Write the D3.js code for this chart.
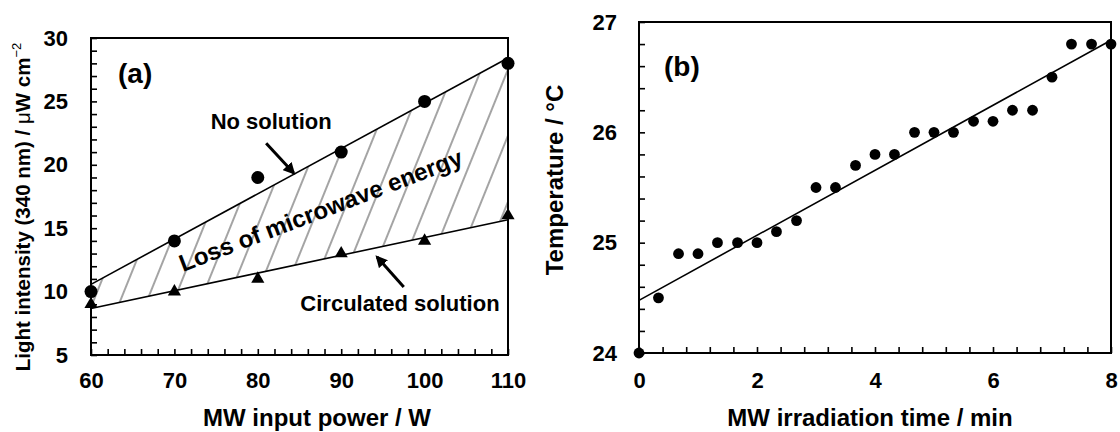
<!DOCTYPE html>
<html lang="en">
<head>
<meta charset="utf-8">
<title>MW power and temperature</title>
<script src="https://cdn.jsdelivr.net/npm/d3@7"></script>
<style>
  body { margin: 0; background: #fff; }
  svg { display: block; font-family: "Liberation Sans", Arial, sans-serif; font-weight: bold; }
  .frame { fill: none; stroke: #000; stroke-width: 2; }
  .fit { fill: none; stroke: #000; stroke-width: 1.6; }
  .axis text { font-size: 22px; font-weight: bold; fill: #000; }
  .axis line { stroke: #000; stroke-width: 1.6; }
  .axis path { display: none; }
</style>
</head>
<body>
<script>
// panel (a) data
var powerW = [60, 70, 80, 90, 100, 110];
var noSolution = [10, 14, 19, 21, 25, 28];
var circulated = [9, 10, 11, 13, 14, 16];
var xTicksA = [60, 70, 80, 90, 100, 110];
var yTicksA = [5, 10, 15, 20, 25, 30];

// panel (b) data
var timeMin = [0, 0.33, 0.67, 1, 1.33, 1.67, 2, 2.33, 2.67, 3, 3.33, 3.67, 4,
               4.33, 4.67, 5, 5.33, 5.67, 6, 6.33, 6.67, 7, 7.33, 7.67, 8];
var temperature = [24.0, 24.5, 24.9, 24.9, 25.0, 25.0, 25.0, 25.1, 25.2, 25.5, 25.5, 25.7, 25.8,
                   25.8, 26.0, 26.0, 26.0, 26.1, 26.1, 26.2, 26.2, 26.5, 26.8, 26.8, 26.8];
var xTicksB = [0, 2, 4, 6, 8];
var yTicksB = [24, 25, 26, 27];

var w = 1120, h = 432;

var svg = d3.select("body").append("svg")
  .attr("width", w)
  .attr("height", h);

// least squares straight line, like the trend lines in the original
function linFit(xs, ys) {
  var mx = d3.mean(xs), my = d3.mean(ys);
  var sxy = d3.sum(xs, function(x, i){ return (x - mx) * (ys[i] - my); });
  var sxx = d3.sum(xs, function(x){ return (x - mx) * (x - mx); });
  var b = sxy / sxx;
  return function(x){ return my + b * (x - mx); };
}

function drawAxes(g, x, y, xMinor, yMinor, xMajor, yMajor, bottom, xPad, yPad) {
  var fmt = d3.format("d");
  g.append("g").attr("class", "axis")
    .attr("transform", "translate(0," + bottom + ")")
    .call(d3.axisBottom(x).tickValues(xMinor).tickSize(-6).tickFormat(""));
  g.append("g").attr("class", "axis")
    .attr("transform", "translate(" + x.range()[0] + ",0)")
    .call(d3.axisLeft(y).tickValues(yMinor).tickSize(-6).tickFormat(""));
  g.append("g").attr("class", "axis")
    .attr("transform", "translate(0," + bottom + ")")
    .call(d3.axisBottom(x).tickValues(xMajor).tickSize(0).tickPadding(xPad).tickFormat(fmt));
  g.append("g").attr("class", "axis")
    .attr("transform", "translate(" + x.range()[0] + ",0)")
    .call(d3.axisLeft(y).tickValues(yMajor).tickSize(0).tickPadding(yPad).tickFormat(fmt));
}

// ---------- panel (a) ----------
var xA = d3.scaleLinear().domain([60, 110]).range([91, 508]);
var yA = d3.scaleLinear().domain([5, 30]).range([355, 38]);

var gA = svg.append("g");

var fitUp = linFit(powerW, noSolution);
var fitLow = linFit(powerW, circulated);
var ends = [60, 110];

// hatch pattern for the loss region
var defs = svg.append("defs");
var pat = defs.append("pattern")
  .attr("id", "hatch")
  .attr("patternUnits", "userSpaceOnUse")
  .attr("width", 24.8)
  .attr("height", 40)
  .attr("patternTransform", "rotate(22)");
pat.append("line")
  .attr("x1", 1).attr("y1", 0).attr("x2", 1).attr("y2", 40)
  .attr("stroke", "#1a1a1a").attr("stroke-width", 0.8);

var band = d3.area()
  .x(function(d){ return xA(d); })
  .y0(function(d){ return yA(fitLow(d)); })
  .y1(function(d){ return yA(fitUp(d)); });

gA.append("path")
  .datum(ends)
  .attr("d", band)
  .attr("fill", "url(#hatch)");

var lineA = function(f) {
  return d3.line().x(function(d){ return xA(d); }).y(function(d){ return yA(f(d)); });
};
gA.append("path").datum(ends).attr("class", "fit").attr("d", lineA(fitUp));
gA.append("path").datum(ends).attr("class", "fit").attr("d", lineA(fitLow));

drawAxes(gA, xA, yA, d3.range(60, 111, 2), d3.range(5, 31, 1), xTicksA, yTicksA, 355, 17, 23);

gA.append("rect").attr("class", "frame")
  .attr("x", 91).attr("y", 38).attr("width", 508 - 91).attr("height", 355 - 38);

gA.selectAll(".dotA")
  .data(powerW)
  .enter().append("circle")
  .attr("cx", function(d){ return xA(d); })
  .attr("cy", function(d, i){ return yA(noSolution[i]); })
  .attr("r", 6.5)
  .attr("fill", "#000");

gA.selectAll(".triA")
  .data(powerW)
  .enter().append("path")
  .attr("d", d3.symbol().type(d3.symbolTriangle).size(75))
  .attr("transform", function(d, i){ return "translate(" + xA(d) + "," + yA(circulated[i]) + ")"; })
  .attr("fill", "#000");

// arrows
defs.append("marker")
  .attr("id", "head")
  .attr("viewBox", "0 0 10 10")
  .attr("refX", 8).attr("refY", 5)
  .attr("markerWidth", 4).attr("markerHeight", 4)
  .attr("markerUnits", "strokeWidth")
  .attr("orient", "auto")
  .append("path").attr("d", "M0,0L10,5L0,10z").attr("fill", "#000");

var arrows = [[81.0, 21.7, 84.3, 19.35], [97.5, 10.36, 94.3, 12.73]];
gA.selectAll(".arrow")
  .data(arrows)
  .enter().append("line")
  .attr("x1", function(d){ return xA(d[0]); })
  .attr("y1", function(d){ return yA(d[1]); })
  .attr("x2", function(d){ return xA(d[2]); })
  .attr("y2", function(d){ return yA(d[3]); })
  .attr("stroke", "#000").attr("stroke-width", 3)
  .attr("marker-end", "url(#head)");

gA.append("text")
  .attr("x", xA(81.6)).attr("y", yA(22.8))
  .attr("text-anchor", "middle").attr("font-size", 22)
  .text("No solution");

gA.append("text")
  .attr("x", xA(97.05)).attr("y", yA(8.47))
  .attr("text-anchor", "middle").attr("font-size", 22)
  .text("Circulated solution");

gA.append("text")
  .attr("transform", "translate(" + xA(87.9) + "," + yA(15.8) + ") rotate(-21)")
  .attr("text-anchor", "middle").attr("font-size", 24)
  .text("Loss of microwave energy");

gA.append("text")
  .attr("x", 118).attr("y", 83)
  .attr("font-size", 28)
  .text("(a)");

gA.append("text")
  .attr("x", 317).attr("y", 426)
  .attr("text-anchor", "middle").attr("font-size", 24)
  .text("MW input power / W");

var yLabA = gA.append("text")
  .attr("transform", "translate(30,207) rotate(-90)")
  .attr("text-anchor", "middle").attr("font-size", 20.5);
yLabA.append("tspan").text("Light intensity (340 nm) / ");
yLabA.append("tspan").attr("font-weight", "normal").text("\u03bc");
yLabA.append("tspan").text("W cm");
yLabA.append("tspan").attr("font-size", 13).attr("font-weight", "normal").attr("dy", -9).text("\u22122");

// ---------- panel (b) ----------
var xB = d3.scaleLinear().domain([0, 8]).range([639, 1111]);
var yB = d3.scaleLinear().domain([24, 27]).range([353, 22]);

var gB = svg.append("g");

var fitT = linFit(timeMin, temperature);
gB.append("path")
  .datum([0, 8])
  .attr("class", "fit")
  .attr("d", d3.line().x(function(d){ return xB(d); }).y(function(d){ return yB(fitT(d)); }));

drawAxes(gB, xB, yB, d3.range(0, 8.01, 0.4), d3.range(24, 27.01, 0.2), xTicksB, yTicksB, 353, 19, 22);

gB.append("rect").attr("class", "frame")
  .attr("x", 639).attr("y", 22).attr("width", 1111 - 639).attr("height", 353 - 22);

gB.selectAll(".dotB")
  .data(timeMin)
  .enter().append("circle")
  .attr("cx", function(d){ return xB(d); })
  .attr("cy", function(d, i){ return yB(temperature[i]); })
  .attr("r", 5.4)
  .attr("fill", "#000");

gB.append("text")
  .attr("x", 664).attr("y", 76)
  .attr("font-size", 28)
  .text("(b)");

gB.append("text")
  .attr("x", 870).attr("y", 426)
  .attr("text-anchor", "middle").attr("font-size", 24)
  .text("MW irradiation time / min");

gB.append("text")
  .attr("transform", "translate(563,180) rotate(-90)")
  .attr("text-anchor", "middle").attr("font-size", 24)
  .text("Temperature / \u00b0C");
</script>
</body>
</html>
